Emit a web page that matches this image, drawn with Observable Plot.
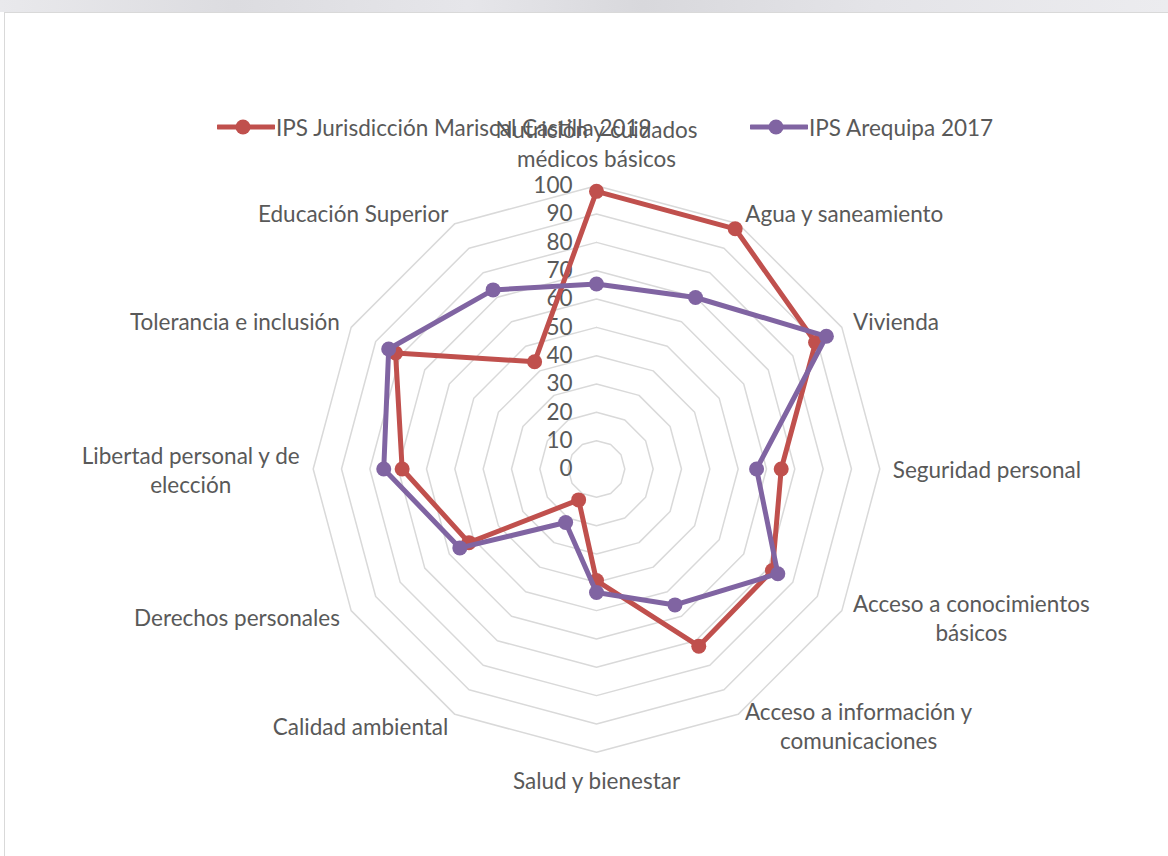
<!DOCTYPE html>
<html>
<head>
<meta charset="utf-8">
<script src="https://cdn.jsdelivr.net/npm/d3@7"></script>
<script src="https://cdn.jsdelivr.net/npm/@observablehq/plot@0.6"></script>
<style>
  html, body { margin: 0; padding: 0; background: #ffffff; }
  #wrap { position: relative; width: 1168px; height: 856px; overflow: hidden; background: #fff; font-family: Lato, "Noto Sans", sans-serif; }
  #topband { position: absolute; left: 0; top: 0; width: 1168px; height: 12px;
    background: linear-gradient(90deg, #e9e9ec 0%, #dcdce0 20%, #e6e6ea 40%, #d8d8dc 55%, #e4e4e8 75%, #ececef 100%); }
  #frame { position: absolute; left: 4px; top: 12px; width: 1200px; height: 900px; border: 1px solid #d9d9d9; pointer-events: none; z-index: 3; }
  #chart { position: absolute; left: 0; top: 0; z-index: 1; }
  #legend { position: absolute; left: 0; top: 0; width: 1168px; height: 856px; z-index: 2; pointer-events: none; }
  .leg { position: absolute; top: 112px; display: flex; align-items: center; height: 30px; color: #595959; white-space: nowrap; }
  .leg svg { display: block; margin-right: 1px; }
</style>
</head>
<body>
<div id="wrap">
  <div id="topband"></div>
  <div id="chart"></div>
  <div id="legend"></div>
  <div id="frame"></div>
</div>
<script>
// ---- data ----
const categories = [
  "Nutrición y cuidados\nmédicos básicos",
  "Agua y saneamiento",
  "Vivienda",
  "Seguridad personal",
  "Acceso a conocimientos\nbásicos",
  "Acceso a información y\ncomunicaciones",
  "Salud y bienestar",
  "Calidad ambiental",
  "Derechos personales",
  "Libertad personal y de\nelección",
  "Tolerancia e inclusión",
  "Educación Superior"
];
const seriesNames = ["IPS Jurisdicción Mariscal Castilla 2019", "IPS Arequipa 2017"];
const mariscal2019 = [98.0, 97.9, 89.3, 65.2, 71.7, 72.2, 39.4, 12.6, 52.0, 68.6, 81.9, 43.7];
const arequipa2017 = [65.3, 69.9, 93.7, 56.5, 73.9, 55.4, 43.6, 21.8, 55.7, 75.1, 84.7, 73.0];
const ticks = [0, 10, 20, 30, 40, 50, 60, 70, 80, 90, 100];
const colors = ["#C0504D", "#8064A2"];

// ---- layout ----
const W = 1168, H = 856;
const cx = 596, cy = 468.5, R = 283.3;
const maxV = 100;
const k = R / maxV; // px per unit
const fontSize = 22.5;
const fontFamily = "Lato, 'Noto Sans', sans-serif";
const textColor = "#595959";
const lineH = 1.29;

const n = categories.length;
const angle = i => i * 2 * Math.PI / n;
const px = (v, i) => v * Math.sin(angle(i));
const py = (v, i) => v * Math.cos(angle(i));

// grid rings
const rings = [];
ticks.filter(t => t > 0).forEach(t => {
  for (let i = 0; i <= n; i++) rings.push({level: t, x: px(t, i % n), y: py(t, i % n)});
});

// series
const seriesValues = [mariscal2019, arequipa2017];
const seriesData = seriesValues.map((vals, s) => {
  const pts = [];
  for (let i = 0; i <= n; i++) pts.push({series: seriesNames[s], x: px(vals[i % n], i % n), y: py(vals[i % n], i % n)});
  return pts;
});

// label placement (Excel-like)
const ctx = document.createElement("canvas").getContext("2d");
ctx.font = `${fontSize}px ${fontFamily}`;
const pad = 13;
const labels = categories.map((c, i) => {
  const a = angle(i);
  const s = Math.sin(a), co = Math.cos(a);
  const lines = c.split("\n");
  const w = Math.max(...lines.map(l => ctx.measureText(l).width));
  const h = lines.length * fontSize * lineH;
  const side = Math.abs(s) < 0.1 ? 0 : Math.sign(s);
  const ox = pad * s + side * w / 2;
  const oy = pad * co + (side === 0 ? Math.sign(co) * h / 2 : 0); // upward positive
  return {text: c, x: px(maxV, i) + ox / k, y: py(maxV, i) + oy / k};
});

const marks = [
  Plot.line(rings, {x: "x", y: "y", z: "level", stroke: "#d9d9d9", strokeWidth: 1.5}),
  Plot.text(ticks, {x: () => 0, y: d => d, text: d => String(d), textAnchor: "end", dx: -24, fill: textColor, fontSize: fontSize}),
  Plot.text(labels, {x: "x", y: "y", text: "text", textAnchor: "middle", lineAnchor: "middle", lineHeight: lineH, fill: textColor, fontSize: fontSize})
];
seriesData.forEach((pts, s) => {
  marks.push(Plot.line(pts, {x: "x", y: "y", stroke: colors[s], strokeWidth: 5, strokeLinejoin: "round"}));
  marks.push(Plot.dot(pts.slice(0, n), {x: "x", y: "y", r: 7.5, fill: colors[s], stroke: "none"}));
});

const chart = Plot.plot({
  width: W, height: H,
  marginLeft: cx - R, marginRight: W - (cx + R),
  marginTop: cy - R, marginBottom: H - (cy + R),
  x: {domain: [-maxV, maxV], axis: null},
  y: {domain: [-maxV, maxV], axis: null},
  style: {background: "transparent", fontFamily: fontFamily, fontSize: fontSize + "px", color: textColor},
  marks
});
document.getElementById("chart").appendChild(chart);

// legend
const legendLefts = [217, 750];
const legend = document.getElementById("legend");
seriesNames.forEach((name, s) => {
  const item = document.createElement("div");
  item.className = "leg";
  item.style.left = legendLefts[s] + "px";
  item.style.fontFamily = fontFamily;
  item.style.fontSize = fontSize + "px";
  item.innerHTML = `<svg width="58" height="16"><line x1="1" y1="8" x2="57" y2="8" stroke="${colors[s]}" stroke-width="5" stroke-linecap="round"/><circle cx="26" cy="8" r="7.5" fill="${colors[s]}"/></svg><span>${name}</span>`;
  legend.appendChild(item);
});
</script>
</body>
</html>
